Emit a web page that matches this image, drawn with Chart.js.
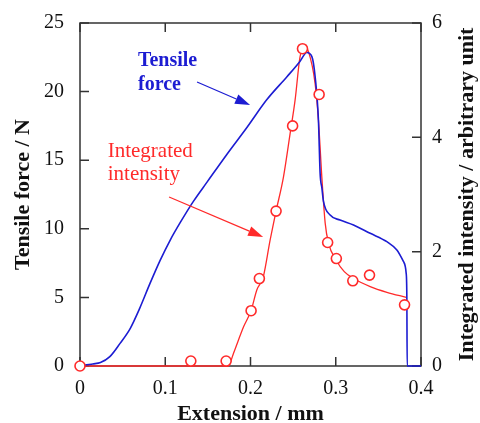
<!DOCTYPE html>
<html>
<head>
<meta charset="utf-8">
<script src="https://cdn.jsdelivr.net/npm/chart.js@4.4.1/dist/chart.umd.min.js"></script>
<style>
  body { margin: 0; background: #fff; }
  #wrap { width: 480px; height: 423px; }
</style>
</head>
<body>
<div id="wrap"><canvas id="tensileChart"></canvas></div>
<script>
// tensile force curve: extension (mm) and force (N)
const forceExt = [0, 0.006, 0.015, 0.024, 0.035, 0.047, 0.059, 0.070, 0.082, 0.094, 0.106, 0.118, 0.133, 0.149, 0.172, 0.196, 0.219, 0.243, 0.258, 0.266, 0.272, 0.2758, 0.2797, 0.2817, 0.2837, 0.2856, 0.2934, 0.305, 0.3208, 0.3404, 0.36, 0.3717, 0.3795, 0.3826, 0.3834, 0.3838, 0.4];
const forceN = [0, 0.07, 0.15, 0.25, 0.68, 1.65, 2.75, 4.2, 6.0, 7.7, 9.2, 10.5, 12.0, 13.4, 15.4, 17.4, 19.4, 21.1, 22.2, 22.85, 22.55, 21.1, 17.9, 14.0, 13.0, 12.0, 11.0, 10.64, 10.28, 9.67, 9.06, 8.45, 7.6, 6.76, 5.0, 0, 0];

// integrated intensity: measured points
const pointExt = [0, 0.13, 0.1714, 0.2007, 0.2104, 0.23, 0.2494, 0.261, 0.2805, 0.2905, 0.3007, 0.32, 0.3396, 0.3807];
const pointInt = [0, 0.087, 0.087, 0.967, 1.53, 2.71, 4.2, 5.55, 4.75, 2.16, 1.88, 1.49, 1.59, 1.07];

// integrated intensity: guide line through the points
const fitExt = [0, 0.174, 0.180, 0.192, 0.2007, 0.2074, 0.215, 0.223, 0.230, 0.2387, 0.2465, 0.2523, 0.258, 0.263, 0.268, 0.2758, 0.2797, 0.2837, 0.2876, 0.2915, 0.3005, 0.310, 0.3208, 0.3404, 0.36, 0.3826];
const fitInt = [0, 0, 0.22, 0.69, 0.97, 1.33, 1.56, 2.2, 2.71, 3.31, 4.07, 4.65, 5.4, 5.59, 5.5, 4.94, 4.3, 3.3, 2.5, 2.15, 1.85, 1.65, 1.53, 1.39, 1.29, 1.2];

// tick labels
const extTicks = [0, 0.1, 0.2, 0.3, 0.4];
const forceTicks = [0, 5, 10, 15, 20, 25];
const intTicks = [0, 2, 4, 6];

const serif = '"Liberation Serif", "Times New Roman", serif';
const blue = "#1c1cd2";
const red = "#ff2a2a";
const frameColor = "#333";

function toPoints(xs, ys) {
  const pts = [];
  for (let i = 0; i < xs.length; i++) {
    pts.push({ x: xs[i], y: ys[i] });
  }
  return pts;
}

function setTicks(list) {
  return function (scale) {
    scale.ticks = list.map(v => ({ value: v }));
  };
}

// arrow with filled head
function drawArrow(ctx, x0, y0, x1, y1, color, width) {
  const ang = Math.atan2(y1 - y0, x1 - x0);
  const len = 15;
  const half = 5;
  ctx.strokeStyle = color;
  ctx.fillStyle = color;
  ctx.lineWidth = width;
  ctx.beginPath();
  ctx.moveTo(x0, y0);
  ctx.lineTo(x1 - len * Math.cos(ang), y1 - len * Math.sin(ang));
  ctx.stroke();
  ctx.beginPath();
  ctx.moveTo(x1, y1);
  ctx.lineTo(x1 - len * Math.cos(ang) + half * Math.sin(ang), y1 - len * Math.sin(ang) - half * Math.cos(ang));
  ctx.lineTo(x1 - len * Math.cos(ang) - half * Math.sin(ang), y1 - len * Math.sin(ang) + half * Math.cos(ang));
  ctx.closePath();
  ctx.fill();
}

// frame and inward ticks, under the data
const framePlugin = {
  id: "framePlugin",
  beforeDatasetsDraw(chart) {
    const ctx = chart.ctx;
    const a = chart.chartArea;
    const x = chart.scales.x;
    const y = chart.scales.y;
    const y1 = chart.scales.y1;
    const tl = 9;
    ctx.save();
    ctx.strokeStyle = frameColor;
    ctx.lineWidth = 1.5;
    ctx.beginPath();
    x.ticks.forEach(t => {
      const px = x.getPixelForValue(t.value);
      ctx.moveTo(px, a.bottom);
      ctx.lineTo(px, a.bottom - tl);
      ctx.moveTo(px, a.top);
      ctx.lineTo(px, a.top + tl);
    });
    y.ticks.forEach(t => {
      const py = y.getPixelForValue(t.value);
      ctx.moveTo(a.left, py);
      ctx.lineTo(a.left + tl, py);
    });
    y1.ticks.forEach(t => {
      const py = y1.getPixelForValue(t.value);
      ctx.moveTo(a.right, py);
      ctx.lineTo(a.right - tl, py);
    });
    ctx.stroke();
    ctx.strokeRect(a.left, a.top, a.right - a.left, a.bottom - a.top);
    ctx.restore();
  },
  // right title and the two labels with arrows
  afterDraw(chart) {
    const ctx = chart.ctx;
    const a = chart.chartArea;
    const x = chart.scales.x;
    const y = chart.scales.y;
    ctx.save();

    ctx.save();
    ctx.translate(467, (a.top + a.bottom) / 2);
    ctx.rotate(-Math.PI / 2);
    ctx.fillStyle = "#111";
    ctx.font = "bold 22px " + serif;
    ctx.textAlign = "center";
    ctx.textBaseline = "middle";
    ctx.fillText("Integrated intensity / arbitrary unit", 0, 0);
    ctx.restore();

    ctx.textAlign = "left";
    ctx.textBaseline = "alphabetic";
    ctx.fillStyle = blue;
    ctx.font = "bold 20px " + serif;
    ctx.fillText("Tensile", x.getPixelForValue(0.068), y.getPixelForValue(21.9));
    ctx.fillText("force", x.getPixelForValue(0.068), y.getPixelForValue(20.1));
    drawArrow(ctx, x.getPixelForValue(0.1373), y.getPixelForValue(20.7),
      x.getPixelForValue(0.1995), y.getPixelForValue(19.02), blue, 1.2);

    ctx.fillStyle = red;
    ctx.font = "21px " + serif;
    ctx.fillText("Integrated", x.getPixelForValue(0.0325), y.getPixelForValue(15.25));
    ctx.fillText("intensity", x.getPixelForValue(0.0325), y.getPixelForValue(13.56));
    drawArrow(ctx, x.getPixelForValue(0.1045), y.getPixelForValue(12.32),
      x.getPixelForValue(0.2148), y.getPixelForValue(9.4), red, 1.2);

    ctx.restore();
  }
};

const ctx = document.getElementById("tensileChart");

new Chart(ctx, {
  type: "scatter",
  data: {
    datasets: [
      {
        label: "Integrated intensity (points)",
        data: toPoints(pointExt, pointInt),
        yAxisID: "y1",
        showLine: false,
        pointRadius: 5,
        pointBackgroundColor: "#fff",
        pointBorderColor: red,
        pointBorderWidth: 1.6,
        clip: false,
      },
      {
        label: "Tensile force",
        data: toPoints(forceExt, forceN),
        yAxisID: "y",
        showLine: true,
        borderColor: blue,
        borderWidth: 1.6,
        pointRadius: 0,
        cubicInterpolationMode: "monotone",
        clip: false,
      },
      {
        label: "Integrated intensity",
        data: toPoints(fitExt, fitInt),
        yAxisID: "y1",
        showLine: true,
        borderColor: red,
        borderWidth: 1.3,
        pointRadius: 0,
        cubicInterpolationMode: "monotone",
        clip: false,
      },
    ],
  },
  options: {
    responsive: true,
    maintainAspectRatio: false,
    animation: false,
    layout: { padding: { top: 23, left: 0, right: 0, bottom: 0 } },
    plugins: {
      legend: { display: false },
      tooltip: { enabled: false },
    },
    scales: {
      x: {
        type: "linear",
        min: 0,
        max: 0.4,
        afterBuildTicks: setTicks(extTicks),
        afterFit(scale) { scale.height = 57; },
        grid: { display: false },
        border: { display: false },
        ticks: { color: "#111", padding: 3, font: { family: serif, size: 20 } },
        title: {
          display: true,
          text: "Extension / mm",
          color: "#111",
          padding: { top: 0, bottom: -2 },
          font: { family: serif, size: 22, weight: "bold", lineHeight: 1 },
        },
      },
      y: {
        type: "linear",
        position: "left",
        min: 0,
        max: 25,
        afterBuildTicks: setTicks(forceTicks),
        afterFit(scale) { scale.width = 80; },
        grid: { display: false },
        border: { display: false },
        ticks: { color: "#111", padding: 8, font: { family: serif, size: 20 } },
        title: {
          display: true,
          text: "Tensile force / N",
          color: "#111",
          padding: { top: 10, bottom: 0 },
          font: { family: serif, size: 22, weight: "bold" },
        },
      },
      y1: {
        type: "linear",
        position: "right",
        min: 0,
        max: 6,
        afterBuildTicks: setTicks(intTicks),
        afterFit(scale) { scale.width = 59; },
        grid: { display: false },
        border: { display: false },
        ticks: { color: "#111", padding: 3, font: { family: serif, size: 20 } },
      },
    },
  },
  plugins: [framePlugin],
});
</script>
</body>
</html>
